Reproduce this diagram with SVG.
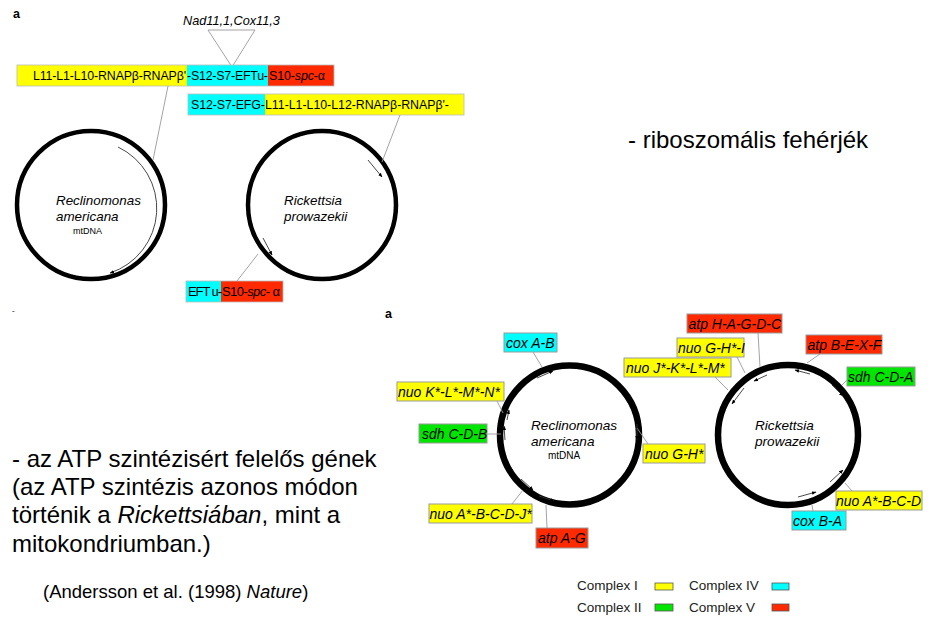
<svg xmlns="http://www.w3.org/2000/svg" width="941" height="627" viewBox="0 0 941 627">
  <style>
    text { font-family: "Liberation Sans", Arial, sans-serif; fill: #000; }
    .it { font-style: italic; }
    .bar { font-size: 12.4px; }
    .lab { font-size: 14px; font-style: italic; }
    .big { font-size: 24px; }
    .leg { font-size: 13.5px; fill: #222; }
    .ring { fill: none; stroke: #000; }
    .conn { fill: none; stroke: #999; stroke-width: 0.9; }
    .arr { fill: none; stroke: #333; stroke-width: 0.9; }
    .box { stroke: #999; stroke-width: 1; }
    .yel { fill: #ffff00; }
    .cya { fill: #00ffff; }
    .red { fill: #ff2a00; }
    .grn { fill: #00e600; }
    .sw { stroke: #555; stroke-width: 0.8; }
  </style>
  <defs>
    <marker id="tip" viewBox="0 0 10 10" refX="9" refY="5" markerWidth="5" markerHeight="5" orient="auto">
      <path d="M0,1 L10,5 L0,9 z" fill="#000"/>
    </marker>
  </defs>

  <rect width="941" height="627" fill="#fff"/>

  <!-- upper panel: ribosomal gene clusters -->
  <g id="panel-top">
    <text x="13" y="18" font-size="12.5" font-weight="bold">a</text>
    <text x="183" y="25" font-size="12.7" class="it">Nad11,1,Cox11,3</text>
    <path d="M208,30 L255,30 L232,67 Z" fill="none" stroke="#999" stroke-width="0.9"/>
  </g>

  <g id="cluster-reclinomonas">
    <rect x="17" y="65" width="170" height="21" class="yel"/>
    <rect x="187" y="65" width="81" height="21" class="cya"/>
    <rect x="268" y="65" width="66" height="21" class="red"/>
    <rect x="17" y="65" width="317" height="21" fill="none" stroke="#bbb" stroke-width="0.8"/>
    <text x="33" y="80" class="bar" textLength="153">L11-L1-L10-RNAPβ-RNAPβ'</text>
    <text x="187" y="80" class="bar" textLength="81">-S12-S7-EFTu-</text>
    <text x="269" y="80" class="bar" textLength="56">S10-<tspan class="it">spc</tspan>-α</text>
  </g>

  <g id="cluster-rickettsia">
    <rect x="188" y="94" width="77" height="21" class="cya"/>
    <rect x="265" y="94" width="199" height="21" class="yel"/>
    <rect x="188" y="94" width="276" height="21" fill="none" stroke="#bbb" stroke-width="0.8"/>
    <text x="191" y="109" class="bar" textLength="74">S12-S7-EFG-</text>
    <text x="265" y="109" class="bar" textLength="184">L11-L1-L10-L12-RNAPβ-RNAPβ'-</text>
  </g>

  <g id="genome-reclinomonas-top">
    <circle cx="91" cy="205" r="74" class="ring" stroke-width="4.5"/>
    <text x="56" y="205" font-size="13.4" class="it">Reclinomonas</text>
    <text x="56" y="221" font-size="13.4" class="it">americana</text>
    <text x="73" y="234" font-size="9">mtDNA</text>
  </g>

  <g id="genome-rickettsia-top">
    <circle cx="322" cy="205" r="74" class="ring" stroke-width="4.5"/>
    <text x="284" y="205" font-size="13.4" class="it">Rickettsia</text>
    <text x="284" y="221" font-size="13.4" class="it">prowazekii</text>
  </g>

  <g id="cluster-eftu">
    <rect x="186" y="281" width="35" height="21" class="cya"/>
    <rect x="221" y="281" width="62" height="21" class="red"/>
    <rect x="186" y="281" width="97" height="21" fill="none" stroke="#bbb" stroke-width="0.8"/>
    <text x="188" y="296" font-size="13" textLength="34">EFT u-</text>
    <text x="222" y="296" font-size="13" textLength="58">S10-<tspan class="it">spc</tspan>- α</text>
  </g>

  <g id="connectors-top">
    <line x1="168" y1="86" x2="153" y2="160" class="conn"/>
    <line x1="400" y1="115" x2="382" y2="162" class="conn"/>
    <line x1="237" y1="281" x2="258" y2="254" class="conn"/>
    <path d="M118,147 A68,68 0 0 1 110,273" class="arr" marker-end="url(#tip)"/>
    <path d="M368,160 L382,177" class="arr" marker-end="url(#tip)"/>
    <path d="M263,238 L272,255" class="arr" marker-end="url(#tip)"/>
  </g>

  <text x="12" y="313" font-size="8">-</text>

  <!-- captions -->
  <text x="628" y="148" class="big">- riboszomális fehérjék</text>
  <g id="caption-atp">
    <text x="12" y="467" class="big">- az ATP szintézisért felelős gének</text>
    <text x="12" y="495" class="big">(az ATP szintézis azonos módon</text>
    <text x="12" y="523" class="big">történik a <tspan class="it">Rickettsiában</tspan>, mint a</text>
    <text x="12" y="552" class="big">mitokondriumban.)</text>
    <text x="43" y="598" font-size="18.5">(Andersson et al. (1998) <tspan class="it">Nature</tspan>)</text>
  </g>

  <!-- lower panel: respiratory chain genes -->
  <text x="385" y="318" font-size="12.5" font-weight="bold">a</text>

  <g id="genome-reclinomonas">
    <circle cx="569.5" cy="435" r="69.5" class="ring" stroke-width="6.5"/>
    <text x="531" y="430" font-size="13.6" class="it">Reclinomonas</text>
    <text x="531" y="446" font-size="13.6" class="it">americana</text>
    <text x="548" y="459" font-size="10">mtDNA</text>
  </g>

  <g id="genome-rickettsia">
    <circle cx="788" cy="435" r="70" class="ring" stroke-width="6.5"/>
    <text x="755" y="430" font-size="13.6" class="it">Rickettsia</text>
    <text x="755" y="446" font-size="13.6" class="it">prowazekii</text>
  </g>

  <g id="connectors">
    <line x1="533" y1="352" x2="542" y2="367" class="conn"/>
    <line x1="497" y1="401" x2="503" y2="413" class="conn"/>
    <line x1="487" y1="434" x2="501" y2="434" class="conn"/>
    <line x1="637" y1="428" x2="648" y2="444" class="conn"/>
    <line x1="512" y1="504" x2="523" y2="490" class="conn"/>
    <line x1="547" y1="528" x2="546" y2="505" class="conn"/>
    <line x1="758" y1="333" x2="760" y2="367" class="conn"/>
    <line x1="737" y1="357" x2="745" y2="373" class="conn"/>
    <line x1="715" y1="377" x2="728" y2="390" class="conn"/>
    <line x1="820" y1="354" x2="807" y2="363" class="conn"/>
    <line x1="847" y1="380" x2="842" y2="385" class="conn"/>
    <line x1="852" y1="491" x2="845" y2="483" class="conn"/>
    <line x1="813" y1="511" x2="812" y2="505" class="conn"/>

    <!-- gene direction marks, Reclinomonas -->
    <path d="M537,378 L553,371" class="arr" marker-end="url(#tip)"/>
    <path d="M507,420 L509,410" class="arr" marker-end="url(#tip)"/>
    <path d="M505,440 L504,426" class="arr" marker-end="url(#tip)"/>
    <path d="M637,424 L637,440" class="arr" marker-end="url(#tip)"/>
    <path d="M521,479 L533,490" class="arr" marker-end="url(#tip)"/>
    <path d="M539,496 L554,501" class="arr" marker-end="url(#tip)"/>

    <!-- gene direction marks, Rickettsia -->
    <path d="M810,374 L795,370" class="arr" marker-end="url(#tip)"/>
    <path d="M767,375 L754,381" class="arr" marker-end="url(#tip)"/>
    <path d="M744,388 L732,404" class="arr" marker-end="url(#tip)"/>
    <path d="M832,385 L843,396" class="arr" marker-end="url(#tip)"/>
    <path d="M798,497 L816,492" class="arr" marker-end="url(#tip)"/>
    <path d="M830,482 L843,470" class="arr" marker-end="url(#tip)"/>
  </g>

  <g id="cox-ab"><rect x="504" y="333" width="53" height="19" class="box cya"/><text x="506" y="348" class="lab">cox A-B</text></g>
  <g id="nuo-klmn"><rect x="397" y="382" width="107" height="19" class="box yel"/><text x="398" y="397" class="lab">nuo K*-L*-M*-N*</text></g>
  <g id="sdh-cdb"><rect x="419" y="424" width="68" height="19" class="box grn"/><text x="422" y="439" class="lab">sdh C-D-B</text></g>
  <g id="nuo-gh"><rect x="643" y="444" width="62" height="19" class="box yel"/><text x="645" y="459" class="lab">nuo G-H*</text></g>
  <g id="nuo-abcdj"><rect x="429" y="504" width="103" height="19" class="box yel"/><text x="429.5" y="519" class="lab">nuo A*-B-C-D-J*</text></g>
  <g id="atp-ag"><rect x="536" y="528" width="52" height="20" class="box red"/><text x="538" y="543" class="lab">atp A-G</text></g>
  <g id="atp-hagdc"><rect x="687" y="314" width="95" height="19" class="box red"/><text x="688.5" y="329" class="lab">atp H-A-G-D-C</text></g>
  <g id="nuo-ghi"><rect x="677" y="338" width="67" height="19" class="box yel"/><text x="678" y="353" class="lab">nuo G-H*-I</text></g>
  <g id="nuo-jklm"><rect x="624" y="358" width="107" height="19" class="box yel"/><text x="626" y="373" class="lab">nuo J*-K*-L*-M*</text></g>
  <g id="atp-bexf"><rect x="806" y="335" width="76" height="19" class="box red"/><text x="807.5" y="350" class="lab">atp B-E-X-F</text></g>
  <g id="sdh-cda"><rect x="847" y="367" width="68" height="19" class="box grn"/><text x="848" y="382" class="lab">sdh C-D-A</text></g>
  <g id="nuo-abcd"><rect x="836" y="491" width="86" height="19" class="box yel"/><text x="836" y="506" class="lab">nuo A*-B-C-D</text></g>
  <g id="cox-ba"><rect x="792" y="511" width="54" height="19" class="box cya"/><text x="793" y="526" class="lab">cox B-A</text></g>

  <g id="legend">
    <text x="577" y="590" class="leg">Complex I</text>
    <rect x="655" y="583" width="18" height="7" class="sw yel"/>
    <text x="577" y="612" class="leg">Complex II</text>
    <rect x="655" y="604" width="18" height="7" class="sw grn"/>
    <text x="689" y="590" class="leg">Complex IV</text>
    <rect x="772" y="583" width="17" height="7" class="sw cya"/>
    <text x="689" y="612" class="leg">Complex V</text>
    <rect x="772" y="604" width="17" height="7" class="sw red"/>
  </g>
</svg>
